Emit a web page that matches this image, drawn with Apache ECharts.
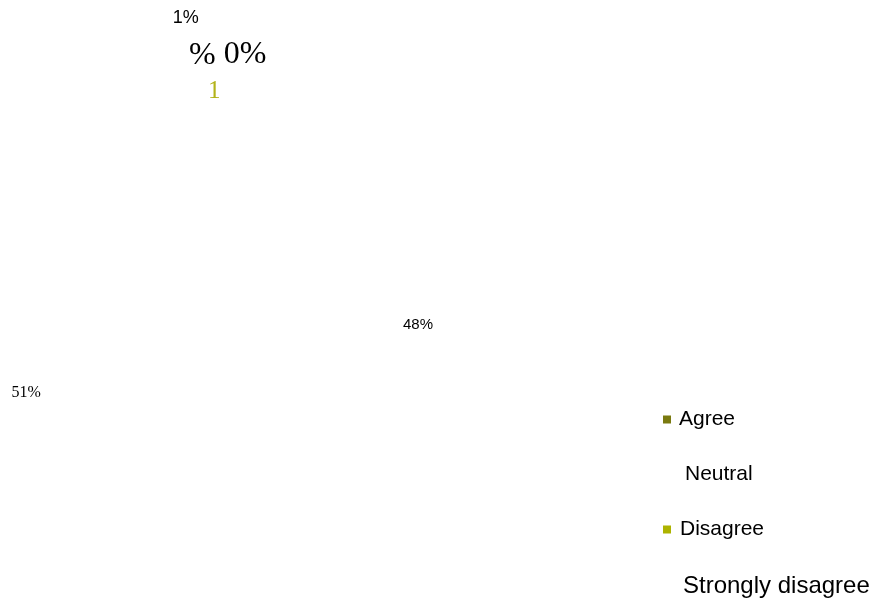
<!DOCTYPE html>
<html>
<head>
<meta charset="utf-8">
<script src="https://cdn.jsdelivr.net/npm/echarts@6/dist/echarts.min.js"></script>
<style>
  html, body { margin: 0; padding: 0; background: #ffffff; }
  #chart { width: 875px; height: 600px; }
</style>
</head>
<body>
<div id="chart"></div>
<script>
// Survey answers, share of respondents (%)
const categories = ['Agree', 'Neutral', 'Disagree', 'Strongly disagree'];
const shares = [48, 1, 51, 0];
// Order in which the slices run round the pie
const sliceOrder = ['Agree', 'Disagree', 'Neutral', 'Strongly disagree'];

// Legend swatch colour per answer (slices themselves are left unfilled)
const swatchColors = {
  'Agree': '#7a7a10',
  'Neutral': '#ffffff',
  'Disagree': '#adb300',
  'Strongly disagree': '#ffffff'
};
const labelStyles = {
  'Agree': { fontFamily: 'Arial, "Liberation Sans", sans-serif', fontSize: 15, offset: [-3, 2] },
  'Disagree': { fontFamily: '"Times New Roman", "Liberation Serif", serif', fontSize: 16, offset: [4, -5] },
  'Neutral': { fontFamily: 'Arial, "Liberation Sans", sans-serif', fontSize: 18, offset: [-7, -138] },
  'Strongly disagree': { fontFamily: '"Times New Roman", "Liberation Serif", serif', fontSize: 32, offset: [46, -101] }
};
// Rich-text style key used for each legend entry
const legendTextKeys = {
  'Agree': 'a',
  'Neutral': 'n',
  'Disagree': 'd',
  'Strongly disagree': 's'
};

const pieData = sliceOrder.map(name => {
  const st = labelStyles[name];
  return {
    name: name,
    value: shares[categories.indexOf(name)],
    itemStyle: { color: 'rgba(255,255,255,0)' },
    label: {
      fontFamily: st.fontFamily,
      fontSize: st.fontSize,
      offset: st.offset
    }
  };
});

const legendData = categories.map(name => ({
  name: name,
  itemStyle: { color: swatchColors[name] }
}));

const legendFont = 'Arial, "Liberation Sans", sans-serif';

const chart = echarts.init(document.getElementById('chart'), null, { renderer: 'canvas' });
chart.setOption({
  backgroundColor: '#ffffff',
  animation: false,
  legend: {
    data: legendData,
    orient: 'vertical',
    left: 658,
    top: 404,
    height: 260,
    icon: 'rect',
    itemWidth: 8,
    itemHeight: 8,
    itemGap: 34,
    selectedMode: false,
    formatter: name => '{' + legendTextKeys[name] + '|' + name + '}',
    textStyle: {
      color: '#000000',
      fontFamily: legendFont,
      fontSize: 21,
      padding: [0, 0, 0, 3],
      rich: {
        a: { color: '#000000', fontFamily: legendFont, fontSize: 21, padding: [0, 0, 0, 0] },
        n: { color: '#000000', fontFamily: legendFont, fontSize: 21, padding: [0, 0, 0, 6] },
        d: { color: '#000000', fontFamily: legendFont, fontSize: 21, padding: [0, 0, 0, 1] },
        s: { color: '#000000', fontFamily: legendFont, fontSize: 24, padding: [0, 0, 0, 4] }
      }
    }
  },
  graphic: [
    {
      type: 'text',
      left: 189,
      top: 40,
      style: {
        text: '%',
        fill: '#000000',
        font: '32px "Times New Roman", "Liberation Serif", serif'
      }
    },
    {
      type: 'text',
      left: 208,
      top: 79,
      style: {
        text: '1',
        fill: '#b3b31a',
        font: '25px "Times New Roman", "Liberation Serif", serif'
      }
    }
  ],
  series: [{
    type: 'pie',
    center: [221, 357],
    radius: [100, 300],
    startAngle: 96.2,
    clockwise: true,
    avoidLabelOverlap: false,
    silent: true,
    label: {
      show: true,
      position: 'inside',
      color: '#000000',
      formatter: p => p.value + '%'
    },
    labelLine: { show: false },
    emphasis: { disabled: true },
    data: pieData
  }]
});
</script>
</body>
</html>
